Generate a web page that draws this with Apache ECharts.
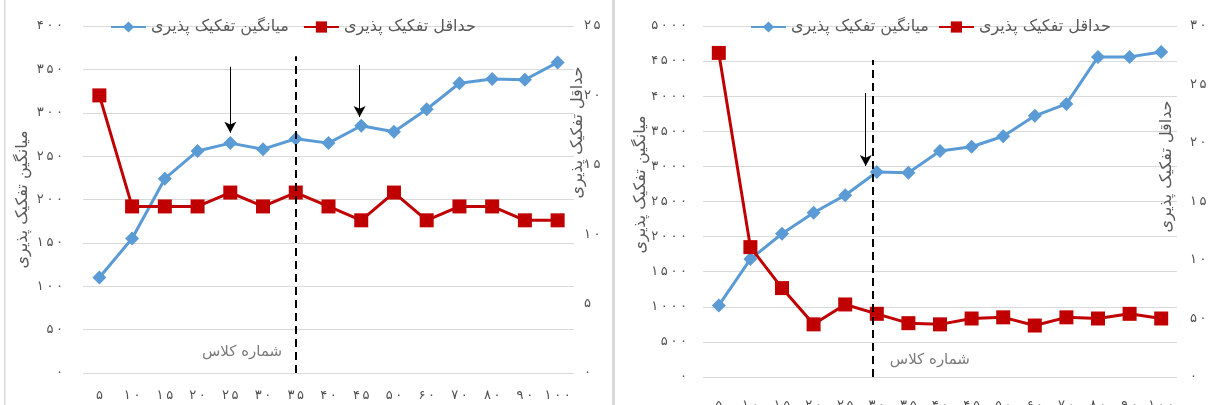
<!DOCTYPE html>
<html><head><meta charset="utf-8">
<script src="https://cdn.jsdelivr.net/npm/echarts@6/dist/echarts.min.js"></script>
<style>html,body{margin:0;padding:0;background:#fff}#c{width:1211px;height:405px}</style>
</head><body><div id="c"></div>
<script>
// ---- data ----
const categories = ['۵','۱۰','۱۵','۲۰','۲۵','۳۰','۳۵','۴۰','۴۵','۵۰','۶۰','۷۰','۸۰','۹۰','۱۰۰'];
const seriesNames = ['میانگین تفکیک پذیری','حداقل تفکیک پذیری'];
const axisTitleLeft = 'میانگین تفکیک پذیری';
const axisTitleRight = 'حداقل تفکیک پذیری';
const classLabel = 'شماره کلاس';

// chart A (left)
const avgA = [110,155,224,256,265,258,270,265,285,278,304,334,339,338,358];
const minA = [20,12,12,12,13,12,13,12,11,13,11,12,12,11,11];
const leftTicksA = ['۰','۵۰','۱۰۰','۱۵۰','۲۰۰','۲۵۰','۳۰۰','۳۵۰','۴۰۰'];
const rightTicksA = ['۰','۵','۱۰','۱۵','۲۰','۲۵'];
const dividerA = [6, 0, 365];
const arrowsA = [[4, 353, 277], [7.95, 355, 295]];
const noteA = [4.36, 24];

// chart B (right)
const avgB = [1020,1680,2040,2340,2590,2920,2910,3220,3280,3430,3720,3890,4560,4560,4630];
const minB = [277,111,76,45,62,54,46,45,50,51,44,51,50,54,50];
const leftTicksB = ['۰','۵۰۰','۱۰۰۰','۱۵۰۰','۲۰۰۰','۲۵۰۰','۳۰۰۰','۳۵۰۰','۴۰۰۰','۴۵۰۰','۵۰۰۰'];
const rightTicksB = ['۰','۵۰','۱۰۰','۱۵۰','۲۰۰','۲۵۰','۳۰۰'];
const dividerB = [4.88, 0, 4515];
const arrowsB = [[4.65, 4046, 3006]];
const noteB = [6.68, 242];

// ---- style ----
const FONT = 'DejaVu Sans';
const GREY = '#595959';
const TICK = '#505050';
const BLUE = '#5B9BD5';
const RED = '#C00000';
const spaced = s => String(s).split('').join('\u2009');

function valAxis(grid, min, max, step, ticks, opts, margin, pad) {
  return Object.assign({
    type: 'value', gridIndex: grid, min: min, max: max, interval: step,
    axisLine: {show: false}, axisTick: {show: false},
    splitLine: {show: false},
    nameLocation: 'middle', nameRotate: 90, nameMoveOverlap: false,
    nameTextStyle: {fontFamily: FONT, fontSize: 16, color: GREY, padding: [0, 0, 0, pad]},
    axisLabel: {fontFamily: FONT, fontSize: 13, color: TICK, margin: margin,
      formatter: v => spaced(ticks[Math.round((v - min) / step)] || '')}
  }, opts);
}
function catAxis(grid, margin) {
  return {
    type: 'category', gridIndex: grid, data: categories, boundaryGap: true,
    axisLine: {show: false}, axisTick: {show: false}, splitLine: {show: false},
    axisLabel: {interval: 0, margin: margin, fontFamily: FONT, fontSize: 13, color: TICK, formatter: spaced}
  };
}
function hiddenX(grid) {
  return {type: 'value', gridIndex: grid, min: -0.5, max: categories.length - 0.5, show: false};
}
function lineSeries(name, xi, yi, data, color, symbol, size) {
  return {
    name: name, type: 'line', xAxisIndex: xi, yAxisIndex: yi, data: data,
    symbol: symbol, symbolSize: size, showSymbol: true,
    lineStyle: {color: color, width: 3}, itemStyle: {color: color},
    emphasis: {disabled: true}
  };
}
function annotSeries(xi, yi, divider, arrows, note) {
  const lines = [];
  lines.push([
    {coord: [divider[0], divider[1]], symbol: 'none', lineStyle: {type: [8, 5], width: 2, color: '#000'}},
    {coord: [divider[0], divider[2]], symbol: 'none'}
  ]);
  arrows.forEach(a => {
    lines.push([
      {coord: [a[0], a[1]], symbol: 'none', lineStyle: {type: 'solid', width: 1, color: '#000'}},
      {coord: [a[0], a[2]], symbol: 'arrow', symbolSize: [9, 11]}
    ]);
  });
  return {
    type: 'scatter', xAxisIndex: xi, yAxisIndex: yi, clip: false, silent: true,
    data: [note], symbolSize: 1, itemStyle: {color: 'rgba(0,0,0,0)'},
    label: {show: true, position: 'inside', formatter: classLabel,
      fontFamily: FONT, fontSize: 15, color: GREY},
    emphasis: {disabled: true},
    markLine: {silent: true, animation: false, label: {show: false}, data: lines}
  };
}
function legend(left, gap) {
  return {
    left: left, top: 19, padding: 0, itemWidth: 35, itemHeight: 14, itemGap: gap,
    selectedMode: false, data: seriesNames,
    textStyle: {fontFamily: FONT, fontSize: 16, color: GREY}
  };
}

const chart = echarts.init(document.getElementById('c'), null, {renderer: 'canvas'});
const gridLine = {show: true, lineStyle: {color: '#D9D9D9', width: 1}};
chart.setOption({
  animation: false,
  backgroundColor: '#fff',
  graphic: [
    {type: 'rect', shape: {x: 4, y: 0, width: 1.5, height: 405}, style: {fill: '#D9D9D9'}, silent: true},
    {type: 'rect', shape: {x: 612, y: 0, width: 3, height: 405}, style: {fill: '#D9D9D9'}, silent: true}
  ],
  legend: [legend(110, 14), legend(750, 9)],
  grid: [
    {left: 83, top: 26, width: 491, height: 347, containLabel: false, outerBoundsMode: 'none'},
    {left: 703, top: 26, width: 474, height: 351, containLabel: false, outerBoundsMode: 'none'}
  ],
  xAxis: [catAxis(0, 16), hiddenX(0), catAxis(1, 22), hiddenX(1)],
  yAxis: [
    valAxis(0, 0, 400, 50, leftTicksA, {name: axisTitleLeft, nameGap: 52, position: 'left', splitLine: gridLine}, 20, 0),
    valAxis(0, 0, 25, 5, rightTicksA, {name: axisTitleRight, nameGap: -4, position: 'right'}, 10, 134),
    valAxis(1, 0, 5000, 500, leftTicksB, {name: axisTitleLeft, nameGap: 54, position: 'left', splitLine: gridLine}, 16, 34),
    valAxis(1, 0, 300, 50, rightTicksB, {name: axisTitleRight, nameGap: -18, position: 'right'}, 13, 70)
  ],
  series: [
    lineSeries(seriesNames[0], 0, 0, avgA, BLUE, 'diamond', 14),
    lineSeries(seriesNames[1], 0, 1, minA, RED, 'rect', 14),
    annotSeries(1, 0, dividerA, arrowsA, noteA),
    lineSeries(seriesNames[0], 2, 2, avgB, BLUE, 'diamond', 14),
    lineSeries(seriesNames[1], 2, 3, minB, RED, 'rect', 14),
    annotSeries(3, 2, dividerB, arrowsB, noteB)
  ]
});
</script></body></html>
